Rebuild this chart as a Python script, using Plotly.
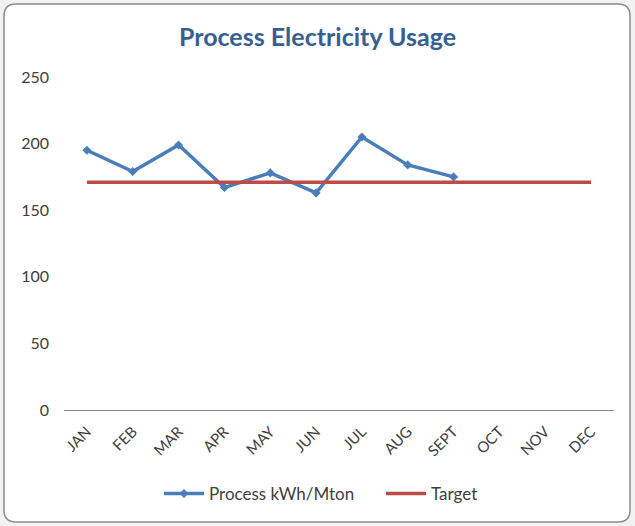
import plotly.graph_objects as go

months = ["JAN", "FEB", "MAR", "APR", "MAY", "JUN", "JUL", "AUG", "SEPT", "OCT", "NOV", "DEC"]
process_values = [195, 179, 199, 167, 178, 163, 205, 184, 175, None, None, None]
target_values = [171] * 12
y_ticks = [0, 50, 100, 150, 200, 250]

W, H = 635, 526
ML, MR, MT, MB = 64, 21, 77, 116
PW, PH = W - ML - MR, H - MT - MB

def px_x(x):
    return (x - ML) / PW

def px_y(y):
    return (H - MB - y) / PH

NB = "\u00a0"
fig = go.Figure()
fig.add_trace(go.Scatter(
    x=months, y=process_values, name="Process kWh/Mton" + NB * 5,
    mode="lines+markers",
    line=dict(color="#4A7EBB", width=3.5),
    marker=dict(symbol="diamond", size=7, color="#4A7EBB"),
))
fig.add_trace(go.Scatter(
    x=months, y=target_values, name="Target",
    mode="lines",
    line=dict(color="#BE4B48", width=3.5),
))

# rounded chart border
x0, x1, y0, y1, r = 4, 630, 4, 522, 12
def P(x, y):
    return f"{px_x(x):.5f},{px_y(y):.5f}"
path = (f"M {P(x0 + r, y0)} L {P(x1 - r, y0)} Q {P(x1, y0)} {P(x1, y0 + r)} "
        f"L {P(x1, y1 - r)} Q {P(x1, y1)} {P(x1 - r, y1)} "
        f"L {P(x0 + r, y1)} Q {P(x0, y1)} {P(x0, y1 - r)} "
        f"L {P(x0, y0 + r)} Q {P(x0, y0)} {P(x0 + r, y0)} Z")
fig.add_shape(type="path", path=path, xref="paper", yref="paper",
              fillcolor="white", line=dict(color="#8C8C8C", width=1.5), layer="below")

fig.update_layout(
    width=W, height=H,
    margin=dict(l=ML, r=MR, t=MT, b=MB, autoexpand=False),
    paper_bgcolor="#F2F2F2",
    plot_bgcolor="rgba(0,0,0,0)",
    font=dict(family="Lato, Carlito, Calibri, sans-serif", size=16, color="#404040"),
    title=dict(text="<b>Process Electricity Usage</b>", x=0.5, xanchor="center",
               xref="container", y=1 - 37 / H, yanchor="middle",
               font=dict(size=25, color="#366092", family="Lato, Calibri, sans-serif")),
    showlegend=True,
    legend=dict(orientation="h", x=px_x(321), xanchor="center", y=px_y(494), yanchor="middle",
                font=dict(size=17, color="#404040"), bgcolor="rgba(0,0,0,0)",
                itemwidth=40, tracegroupgap=0),
    xaxis=dict(type="category", categoryorder="array", categoryarray=months,
               range=[-0.5, len(months) - 0.5],
               tickangle=-45, showline=True, linecolor="#868686", linewidth=1,
               showgrid=False, zeroline=False, ticks="", tickfont=dict(size=15),
               ticklabelstandoff=6, automargin=False),
    yaxis=dict(range=[0, 250], tickvals=y_ticks, showgrid=False, zeroline=False,
               showline=False, ticks="", ticklabelstandoff=14, tickfont=dict(size=16),
               automargin=False),
)

fig.write_html("out.html", post_script="document.body.style.margin='0';",
               config={"displayModeBar": False})
